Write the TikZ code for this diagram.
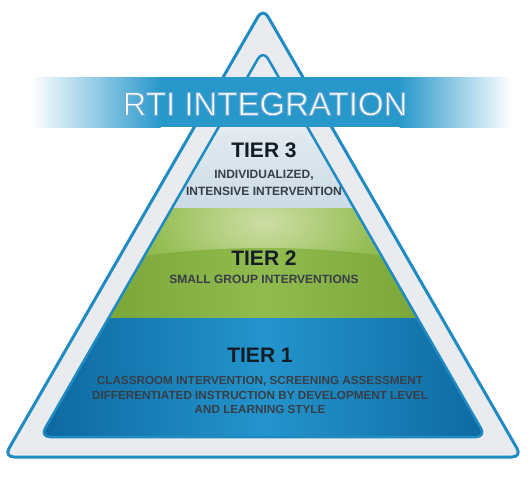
\documentclass[tikz,border=0pt]{standalone}
\usepackage{fontspec}
\setmainfont{Liberation Sans}
\definecolor{rtiblue}{RGB}{30,140,195}
\definecolor{panelgray}{RGB}{233,235,238}
\definecolor{bannerblue}{RGB}{40,152,203}
\definecolor{tierone}{RGB}{10,96,152}
\definecolor{tieronelight}{RGB}{36,148,204}
\definecolor{tiertwo}{RGB}{116,166,44}
\definecolor{tiertwomid}{RGB}{145,187,78}
\definecolor{tiertwolight}{RGB}{205,222,165}
\definecolor{tierthree}{RGB}{203,219,230}
\definecolor{tierthreelight}{RGB}{226,234,239}
\definecolor{tiertext}{RGB}{20,28,38}
% outlined white letters for the banner
\newcommand{\outlinetext}[1]{\special{pdf:literal direct 0.45 0.68 0.84 RG 0.9 w 2 Tr}#1\special{pdf:literal direct 0 Tr}}
\begin{document}
\begin{tikzpicture}
	[x=1pt,y=-1pt,
	frame/.style={draw=rtiblue,line width=3pt,rounded corners=10pt,line join=round},
	tiertitle/.style={font=\bfseries\fontsize{21}{24}\selectfont,text=tiertext},
	tierinfo/.style={font=\bfseries\fontsize{12}{17}\selectfont,text=tiertext!85!white,align=center},
	bannertext/.style={font=\fontsize{33}{36}\selectfont,text=white}]
	\useasboundingbox (0,0) rectangle (531,480);
	% outer frame
	\draw[frame,fill=panelgray] (263,8) -- (522,457) -- (4,457) -- cycle;
	% the pyramid and its tiers
	\begin{scope}
		\clip[rounded corners=10pt] (263,50) -- (486,437) -- (40,437) -- cycle;
		\fill[panelgray] (0,0) rectangle (531,130);
		\shade[top color=tierthreelight,bottom color=tierthree] (0,130) rectangle (531,208);
		\begin{scope}
			\clip (0,208) rectangle (531,318);
			\fill[tiertwomid] (0,208) rectangle (531,318);
			\shade[inner color=tiertwolight,outer color=tiertwomid] (264,222) ellipse (120 and 70);
			\shade[left color=tiertwo!88!black,right color=tiertwo!88!black,middle color=tiertwomid] (264,345) ellipse (300 and 97);
		\end{scope}
		\shade[left color=tierone,right color=tierone,middle color=tieronelight] (0,318) rectangle (531,440);
	\end{scope}
	\draw[frame,line width=2.5pt] (263,50) -- (486,437) -- (40,437) -- cycle;
	% banner
	\fill[bannerblue] (160,77) rectangle (400,127);
	\shade[left color=white,right color=bannerblue] (30,77) rectangle (160.5,127);
	\shade[left color=bannerblue,right color=white] (399.5,77) rectangle (512,127);
	\node[bannertext] (heading) at (265,104) {\outlinetext{RTI INTEGRATION}};
	% labels
	\node[tiertitle] (tier3) at (264,150) {TIER 3};
	\node[tierinfo] (tier3info) at (264,183) {INDIVIDUALIZED,\\INTENSIVE INTERVENTION};
	\node[tiertitle] (tier2) at (264,258) {TIER 2};
	\node[tierinfo] (tier2info) at (264,279) {SMALL GROUP INTERVENTIONS};
	\node[tiertitle] (tier1) at (260,355) {TIER 1};
	\node[tierinfo,font=\bfseries\fontsize{11.7}{14.5}\selectfont] (tier1info) at (260,395)
		{CLASSROOM INTERVENTION, SCREENING ASSESSMENT\\DIFFERENTIATED INSTRUCTION BY DEVELOPMENT LEVEL\\AND LEARNING STYLE};
\end{tikzpicture}
\end{document}
